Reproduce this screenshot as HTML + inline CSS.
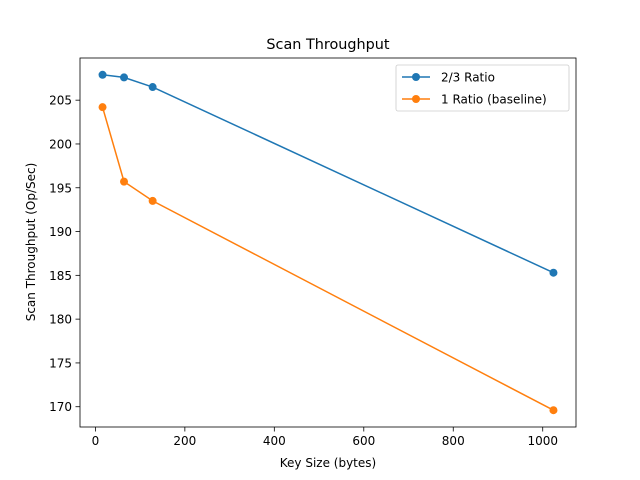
<!DOCTYPE html>
<html><head><meta charset="utf-8"><style>
html,body{margin:0;padding:0;background:#fff;}
svg{display:block;font-family:"DejaVu Sans","Liberation Sans",sans-serif;}
</style></head><body>
<svg id="chart" width="640" height="480" xmlns="http://www.w3.org/2000/svg"></svg>
<script>
const keySizes = [16, 64, 128, 1024];
const ratio23 = [207.9, 207.6, 206.5, 185.3];
const ratio1 = [204.2, 195.7, 193.5, 169.6];
const xTicks = [0, 200, 400, 600, 800, 1000];
const yTicks = [170, 175, 180, 185, 190, 195, 200, 205];

const L=80,R=576,T=58,B=427;
const xmin0=Math.min(...keySizes), xmax0=Math.max(...keySizes);
const xm=(xmax0-xmin0)*0.05, xmin=xmin0-xm, xmax=xmax0+xm;
const all=ratio23.concat(ratio1);
const ymin0=Math.min(...all), ymax0=Math.max(...all);
const ym=(ymax0-ymin0)*0.05, ymin=ymin0-ym, ymax=ymax0+ym;
const X=v=>L+(v-xmin)/(xmax-xmin)*(R-L);
const Y=v=>B-(v-ymin)/(ymax-ymin)*(B-T);
const svg=document.getElementById('chart');
const NS='http://www.w3.org/2000/svg';
function mk(tag,attrs,parent){const e=document.createElementNS(NS,tag);for(const k in attrs)e.setAttribute(k,attrs[k]);(parent||svg).appendChild(e);return e;}
function txt(s,attrs){const e=mk('text',attrs);e.textContent=s;return e;}

xTicks.forEach(t=>{
  const g=mk('g',{});
  
  
  mk('line',{x1:X(t),x2:X(t),y1:B,y2:B+4.5,stroke:'#000','stroke-width':0.8},g);
  const e=mk('text',{x:X(t),y:B+18,'font-size':12,'text-anchor':'middle'},g);e.textContent=t;
});
yTicks.forEach(t=>{
  const g=mk('g',{});
  
  
  mk('line',{x1:L-4.5,x2:L,y1:Y(t),y2:Y(t),stroke:'#000','stroke-width':0.8},g);
  const e=mk('text',{x:L-8,y:Y(t)+4.5,'font-size':12,'text-anchor':'end'},g);e.textContent=t;
});

function series(vals,color,name){
  const g=mk('g',{});
  
  
  mk('polyline',{points:keySizes.map((k,i)=>X(k)+','+Y(vals[i])).join(' '),fill:'none',stroke:color,'stroke-width':1.5},g);
  keySizes.forEach((k,i)=>{
    const c=mk('circle',{cx:X(k),cy:Y(vals[i]),r:4,fill:color},g);
    
    
  });
}
series(ratio23,'#1f77b4','series-2-3-ratio');
series(ratio1,'#ff7f0e','series-1-ratio-baseline');

const frame=mk('rect',{x:L,y:T,width:R-L,height:B-T,fill:'none',stroke:'#000','stroke-width':0.8});



let e=txt('Scan Throughput',{x:(L+R)/2,y:49,'font-size':14.4,'text-anchor':'middle'});

e=txt('Key Size (bytes)',{x:(L+R)/2,y:467,'font-size':12,'text-anchor':'middle'});

e=txt('Scan Throughput (Op/Sec)',{x:0,y:0,'font-size':12,'text-anchor':'middle',transform:'translate(35,242) rotate(-90)'});


const lg=mk('g',{});


mk('rect',{x:396,y:65,width:173,height:46,rx:2,fill:'#fff',stroke:'#ccc','stroke-width':0.8},lg);
[['2/3 Ratio','#1f77b4'],['1 Ratio (baseline)','#ff7f0e']].forEach((d,i)=>{
  const y=77+i*22;
  const g=mk('g',{},lg);
  
  
  mk('line',{x1:402,x2:430,y1:y,y2:y,stroke:d[1],'stroke-width':1.5},g);
  mk('circle',{cx:416,cy:y,r:4,fill:d[1]},g);
  const t=mk('text',{x:441,y:y+4.5,'font-size':12},g);t.textContent=d[0];
});
</script>
</body></html>
